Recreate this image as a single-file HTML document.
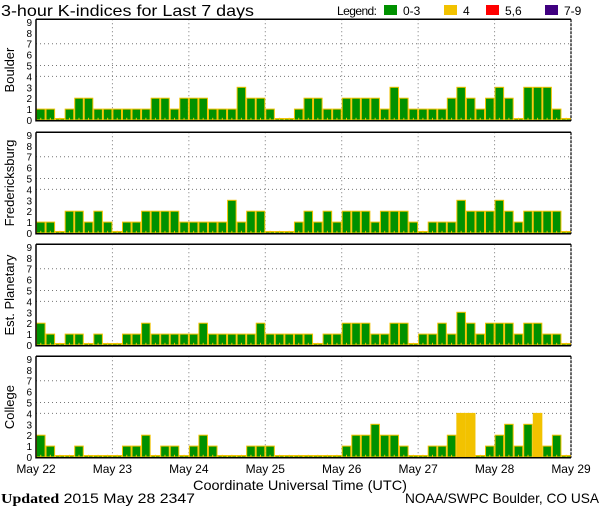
<!DOCTYPE html>
<html><head><meta charset="utf-8"><style>
body{margin:0;background:#fff;}
svg{display:block;font-family:"Liberation Sans",sans-serif;}
</style></head><body>
<svg id="chart" width="600" height="510"></svg>
<script>
const stations = ["Boulder","Fredericksburg","Est. Planetary","College"];
const boulder = [1,1,0,1,2,2,1,1,1,1,1,1,2,2,1,2,2,2,1,1,1,3,2,2,1,0,0,1,2,2,1,1,2,2,2,2,1,3,2,1,1,1,1,2,3,2,1,2,3,2,0,3,3,3,1,0];
const fredericksburg = [1,1,0,2,2,1,2,1,0,1,1,2,2,2,2,1,1,1,1,1,3,1,2,2,0,0,0,1,2,1,2,1,2,2,2,1,2,2,2,1,0,1,1,1,3,2,2,2,3,2,1,2,2,2,2,0];
const planetary = [2,1,0,1,1,0,1,0,0,1,1,2,1,1,1,1,1,2,1,1,1,1,1,2,1,1,1,1,1,0,1,1,2,2,2,1,1,2,2,0,1,1,2,1,3,2,1,2,2,2,1,2,2,1,1,0];
const college = [2,1,0,0,1,0,0,0,0,1,1,2,0,1,1,0,1,2,1,0,0,0,1,1,1,0,0,0,0,0,0,0,1,2,2,3,2,2,1,0,0,1,1,2,4,4,0,1,2,3,1,3,4,1,2,0];
const dayLabels = ["May 22","May 23","May 24","May 25","May 26","May 27","May 28","May 29"];
const yTicks = [0,1,2,3,4,5,6,7,8,9];
const gridLevels = [4,5,7];
const series = [boulder,fredericksburg,planetary,college];

const NS="http://www.w3.org/2000/svg";
const svg=document.getElementById('chart');
function mk(tag,attrs,parent){const e=document.createElementNS(NS,tag);for(const k in attrs)e.setAttribute(k,attrs[k]);(parent||svg).appendChild(e);return e;}
const X0=36, X1=571, nBars=56;
const bw=(X1-X0)/nBars;
const xPos=i=>X0+i*bw;
const panelTops=[19.3,132.3,244.3,356.3];
const PH=101.5;
const unit=10.9;
function color(v){return v<=3?"#009100":v==4?"#f2c200":v<=6?"#ff0000":"#400080";}

let t=mk('text',{x:1,y:16,'font-size':16,fill:'#000',textLength:253,lengthAdjust:'spacingAndGlyphs'});t.textContent="3-hour K-indices for Last 7 days";

const legendItems=[["Legend:",null,337,40],["0-3","#009100",384,0],["4","#f2c200",444,0],["5,6","#ff0000",486,0],["7-9","#400080",545,0]];
legendItems.forEach((it,k)=>{
  if(it[1]){const r=mk('rect',{x:it[2],y:5,width:13,height:10,fill:it[1]});
    }
  const tx=mk('text',{x:it[1]?it[2]+19:it[2],y:15,'font-size':12,fill:'#000'});tx.textContent=it[0];
  if(it[3]){tx.setAttribute('textLength',it[3]);}
  
});

series.forEach((data,p)=>{
  const top=panelTops[p], bot=top+PH;
  const zero=bot-0.8;
  const y=v=>zero-v*unit;
  const g=mk('g',{});
  
  
  gridLevels.forEach(l=>{const ln=mk('line',{x1:X0,x2:X1,y1:y(l),y2:y(l),stroke:'#777','stroke-dasharray':'1,3'},g);
    });
  for(let d=1;d<7;d++){const ln=mk('line',{x1:xPos(d*8),x2:xPos(d*8),y1:top,y2:bot,stroke:'#777','stroke-dasharray':'1,3'},g);
    }
  data.forEach((v,i)=>{
    const h=Math.max(v*unit,1.5);
    const c=color(v);
    const r=mk('rect',{x:xPos(i)+0.5,y:zero-h,width:bw-1,height:h,fill:c,stroke:'#f2c200','stroke-width':1},g);
    
    if(v<4){const tk=mk('rect',{x:xPos(i)+bw/2-0.5,y:bot-3,width:1,height:2,fill:'#f2c200'},g);
      }
  });
  const ax=mk('path',{d:`M${X0} ${top}H${X1}M${X0} ${top}V${bot}H${X1}`,stroke:'#000','stroke-width':1.5,fill:'none'},g);
  
  const rb=mk('line',{x1:X1,x2:X1,y1:top,y2:bot,stroke:'#000','stroke-width':1.2,'stroke-dasharray':'3,1'},g);
  
  yTicks.forEach(v=>{const tx=mk('text',{x:32,y:y(v)+4,'font-size':10,'text-anchor':'end',fill:'#000'},g);tx.textContent=v;
    });
  const cy=(top+bot)/2;
  const lab=mk('text',{x:14,y:cy,'font-size':13,'text-anchor':'middle',transform:`rotate(-90 14 ${cy})`,fill:'#000'},g);
  lab.textContent=stations[p];
  
});

dayLabels.forEach((d,k)=>{const tx=mk('text',{x:xPos(k*8),y:473,'font-size':12,'text-anchor':'middle',fill:'#000'});tx.textContent=d;
  });
let xt=mk('text',{x:193,y:490,'font-size':14,fill:'#000',textLength:214,lengthAdjust:'spacingAndGlyphs'});xt.textContent="Coordinate Universal Time (UTC)";

let up=mk('text',{x:1,y:503,'font-size':14,fill:'#000',textLength:194,lengthAdjust:'spacingAndGlyphs'});
up.innerHTML='<tspan font-weight="bold" font-family="Liberation Serif, serif">Updated</tspan> 2015 May 28 2347';

let src=mk('text',{x:405,y:503,'font-size':14,fill:'#000',textLength:194,lengthAdjust:'spacingAndGlyphs'});src.textContent="NOAA/SWPC Boulder, CO USA";

</script>
</body></html>
